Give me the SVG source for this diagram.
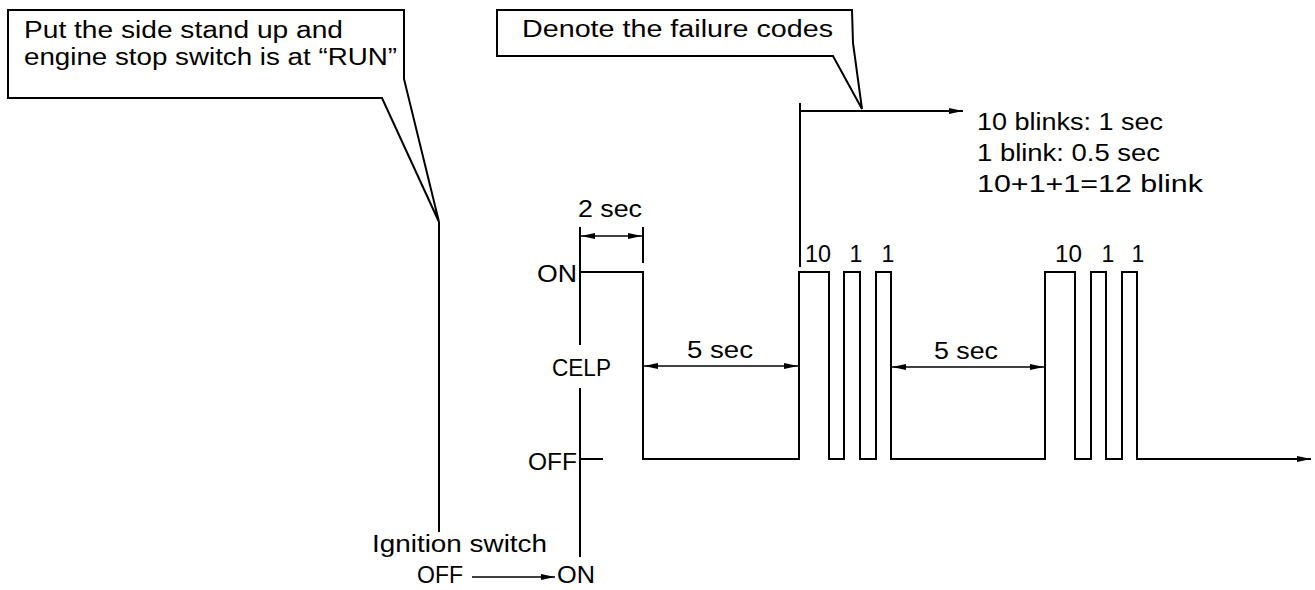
<svg xmlns="http://www.w3.org/2000/svg" width="1315" height="590" viewBox="0 0 1315 590">
<style>
.ln{fill:none;stroke:#000;stroke-width:2;stroke-linejoin:miter;stroke-linecap:butt}
.tx{font-family:"Liberation Sans",Arial,sans-serif;font-size:23px;fill:#000}
.box{fill:#fff;stroke:#000;stroke-width:2}
</style>
<defs>
<marker id="ah" markerUnits="userSpaceOnUse" markerWidth="16" markerHeight="8" viewBox="-15 -4 16 8" refX="0" refY="0" orient="auto-start-reverse">
<path d="M0,0 L-14,-3 L-14,3 Z" fill="#000"/>
</marker>
</defs>
<rect width="1315" height="590" fill="#fff"/>

<g id="note-side-stand">
<path class="box" d="M382,98 L8,98 L8,10 L404,10 L404,79 L439,222 Z"/>
<text class="tx" x="24" y="38" textLength="319" lengthAdjust="spacingAndGlyphs">Put the side stand up and</text>
<text class="tx" x="24" y="65" textLength="373" lengthAdjust="spacingAndGlyphs">engine stop switch is at “RUN”</text>
</g>

<g id="note-failure-codes">
<path class="box" d="M833,56 L497,56 L497,10 L852,10 L853,43 L862,109 Z"/>
<text class="tx" x="522" y="37" textLength="311" lengthAdjust="spacingAndGlyphs">Denote the failure codes</text>
</g>

<g id="blink-legend">
<text class="tx" x="977" y="130" textLength="186" lengthAdjust="spacingAndGlyphs">10 blinks: 1 sec</text>
<text class="tx" x="977" y="161" textLength="183" lengthAdjust="spacingAndGlyphs">1 blink: 0.5 sec</text>
<text class="tx" x="977" y="192" textLength="226" lengthAdjust="spacingAndGlyphs">10+1+1=12 blink</text>
</g>

<g id="axis">
<path class="ln" d="M580,227 V345 M580,388 V557 M580,459 H603"/>
<text class="tx" x="577" y="282" text-anchor="end" textLength="40" lengthAdjust="spacingAndGlyphs">ON</text>
<text class="tx" x="552" y="376" textLength="59" lengthAdjust="spacingAndGlyphs">CELP</text>
<text class="tx" x="577" y="470" text-anchor="end" textLength="49" lengthAdjust="spacingAndGlyphs">OFF</text>
</g>

<g id="waveform">
<path class="ln" d="M580,272 H643 V459 H799 V272 H829 V459 H844 V272 H860 V459 H876 V272 H891 V459 H1045 V272 H1075 V459 H1091 V272 H1106 V459 H1122 V272 H1137 V459 H1311" marker-end="url(#ah)"/>
</g>

<g id="pulse-labels">
<text class="tx" x="805" y="262" textLength="26" lengthAdjust="spacingAndGlyphs">10</text>
<text class="tx" x="856" y="262" text-anchor="middle">1</text>
<text class="tx" x="888" y="262" text-anchor="middle">1</text>
<text class="tx" x="1055" y="262" textLength="27" lengthAdjust="spacingAndGlyphs">10</text>
<text class="tx" x="1108" y="262" text-anchor="middle">1</text>
<text class="tx" x="1138" y="262" text-anchor="middle">1</text>
</g>

<g id="dim-2sec">
<path class="ln" d="M643,227 V263"/>
<path class="ln" d="M581,236 H642" marker-start="url(#ah)" marker-end="url(#ah)" style="stroke-width:1.5"/>
<text class="tx" x="578" y="217" textLength="64" lengthAdjust="spacingAndGlyphs">2 sec</text>
</g>

<g id="dim-5sec-1">
<path class="ln" d="M644,366 H798" marker-start="url(#ah)" marker-end="url(#ah)" style="stroke-width:1.5"/>
<text class="tx" x="687" y="358" textLength="66" lengthAdjust="spacingAndGlyphs">5 sec</text>
</g>

<g id="dim-5sec-2">
<path class="ln" d="M892,367 H1044" marker-start="url(#ah)" marker-end="url(#ah)" style="stroke-width:1.5"/>
<text class="tx" x="934" y="359" textLength="64" lengthAdjust="spacingAndGlyphs">5 sec</text>
</g>

<g id="ignition">
<text class="tx" x="372" y="552" textLength="175" lengthAdjust="spacingAndGlyphs">Ignition switch</text>
<text class="tx" x="417" y="583" textLength="46" lengthAdjust="spacingAndGlyphs">OFF</text>
<text class="tx" x="557" y="583" textLength="38" lengthAdjust="spacingAndGlyphs">ON</text>
</g>

<g id="connectors">
<path class="ln" d="M439,222 V532"/>
<path class="ln" d="M800,103 V267"/>
<path class="ln" d="M800,111 H963" marker-end="url(#ah)"/>
<path class="ln" d="M472,577 H555" marker-end="url(#ah)" style="stroke-width:1.5"/>
</g>
</svg>
